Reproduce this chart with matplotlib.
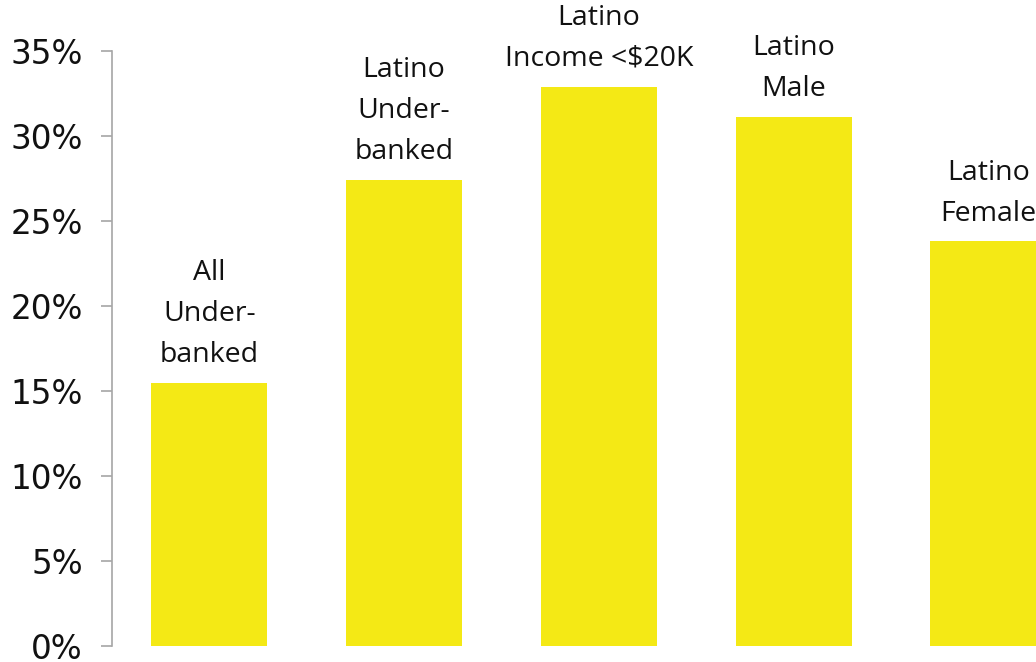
import numpy as np
import matplotlib.pyplot as plt
from matplotlib.ticker import FuncFormatter

groups = ['All\nUnder-\nbanked', 'Latino\nUnder-\nbanked', 'Latino\nIncome <$20K',
          'Latino\nMale', 'Latino\nFemale']
shares = [15.5, 27.4, 32.9, 31.1, 23.8]
yticks = [0, 5, 10, 15, 20, 25, 30, 35]

fig = plt.figure(figsize=(10.36, 6.62), dpi=100)
# axes runs off the right edge so the last bar is cut like in the slide
ax = fig.add_axes([0.108, 0.024, 0.94, 0.899])

x = np.arange(len(groups))
bars = ax.bar(x, shares, width=0.595, color='#F4E915')

ax.set_xlim(-0.5, 4.5)
ax.set_ylim(0, 35)
ax.set_yticks(yticks)
ax.yaxis.set_major_formatter(FuncFormatter(lambda v, p: f'{v:.0f}%'))
ax.tick_params(axis='y', labelsize=23.5, length=8, width=1.2, color='#a6a6a6',
               pad=13, labelcolor='#111111')
ax.set_xticks([])

for s in ['top', 'right', 'bottom']:
    ax.spines[s].set_visible(False)
ax.spines['left'].set_color('#a6a6a6')
ax.spines['left'].set_linewidth(1.2)

for xi, val, lab in zip(x, shares, groups):
    ax.annotate(lab, xy=(xi, val), xytext=(0, 10), textcoords='offset points',
                ha='center', va='bottom', fontsize=20.5, family='Open Sans',
                linespacing=1.62, color='#111111', annotation_clip=False)

fig.savefig('out.png', dpi=100)
